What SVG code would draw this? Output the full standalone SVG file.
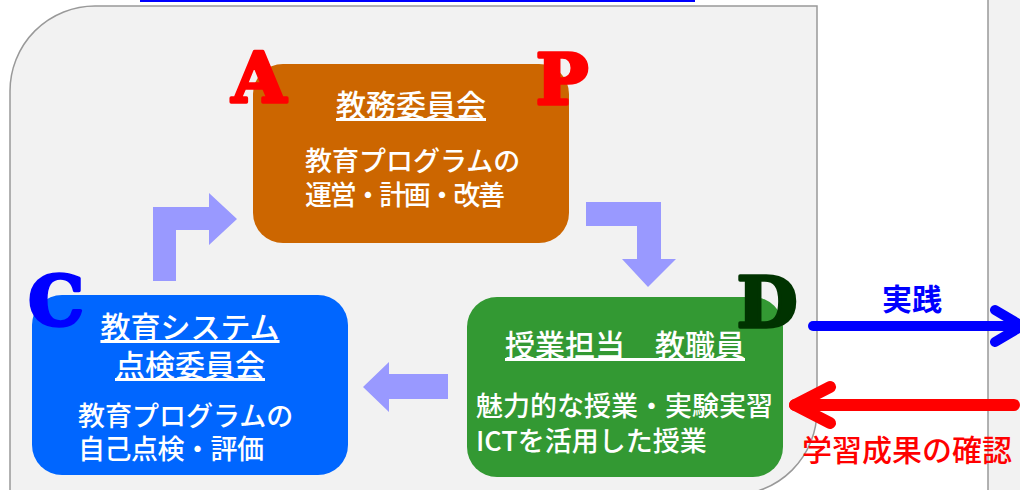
<svg xmlns="http://www.w3.org/2000/svg" width="1020" height="490" viewBox="0 0 1020 490">
<style>
.jp{font-family:"Noto Sans CJK JP","Noto Sans CJK SC",sans-serif;fill:#fff;font-weight:500}
.t{font-size:30px;text-decoration:underline}
.b{font-size:27px}
.big{font-family:"DejaVu Serif","Liberation Serif",serif;font-weight:bold;font-size:70px;text-anchor:middle;stroke-width:3.5;stroke-linejoin:round}
.flow{fill:#9999FF}
</style>
<rect x="0" y="0" width="1020" height="490" fill="#fff"/>
<rect x="140" y="0" width="555" height="2" fill="#0000FF"/>
<g id="panel-left">
<path d="M10,91 A85,85 0 0 1 95,6 L817,6 L817,410 A85,85 0 0 1 732,495 L10,495 Z" fill="#F2F2F2" stroke="#999" stroke-width="1.5"/>
</g>
<g id="panel-right">
<rect x="988" y="-2" width="40" height="500" fill="#F2F2F2" stroke="#999" stroke-width="1.5"/>
</g>
<g id="connectors">
<path class="flow" d="M153,281 L153,207 L209,207 L209,193 L237,219 L209,245 L209,230 L176,230 L176,281 Z"/>
<path class="flow" d="M586,202 L661,202 L661,259 L676,259 L648,287 L622,259 L637,259 L637,226 L586,226 Z"/>
<path class="flow" d="M448,374 L389,374 L389,362 L363,387 L389,412 L389,399 L448,399 Z"/>
<g fill="none" stroke="#0000FF" stroke-width="10" stroke-linecap="round" stroke-linejoin="round">
<line x1="813" y1="326" x2="1020" y2="326"/>
<polyline points="995,310 1022,326 995,342"/>
</g>
<g fill="none" stroke="#FF0000" stroke-width="12" stroke-linecap="round" stroke-linejoin="round">
<line x1="795" y1="405" x2="1014" y2="405"/>
<polyline points="830,387 795,405 830,423"/>
</g>
<text x="912" y="310" text-anchor="middle" font-family="Noto Sans CJK JP, sans-serif" font-weight="bold" font-size="30" fill="#0000FF">実践</text>
<text x="802" y="461" font-family="Noto Sans CJK JP, sans-serif" font-weight="500" font-size="30" fill="#FF0000">学習成果の確認</text>
</g>
<g id="node-plan">
<rect x="253" y="64" width="316" height="179" rx="30" fill="#CC6600"/>
<text class="jp t" x="411" y="116" text-anchor="middle">教務委員会</text>
<text class="jp b" x="305" y="171">教育プログラムの</text>
<text class="jp b" x="305" y="205" textLength="200" lengthAdjust="spacing">運営・計画・改善</text>
<text class="big" x="259" y="102" fill="#FF0000" stroke="#FF0000">A</text>
<text class="big" x="562" y="104" fill="#FF0000" stroke="#FF0000">P</text>
</g>
<g id="node-check">
<rect x="32" y="295" width="316" height="180" rx="30" fill="#0066FF"/>
<text class="jp t" x="190" y="338" text-anchor="middle">教育システム</text>
<text class="jp t" x="190" y="376" text-anchor="middle">点検委員会</text>
<text class="jp b" x="78" y="426">教育プログラムの</text>
<text class="jp b" x="78" y="459" textLength="186" lengthAdjust="spacing">自己点検・評価</text>
<text class="big" x="56" y="325" fill="#0000FF" stroke="#0000FF">C</text>
</g>
<g id="node-do">
<rect x="467" y="297" width="316" height="180" rx="30" fill="#339933"/>
<text class="jp t" x="625" y="356" text-anchor="middle">授業担当　教職員</text>
<text class="jp b" x="476" y="416">魅力的な授業・実験実習</text>
<text class="jp b" x="476" y="451">ICTを活用した授業</text>
<text class="big" x="767" y="327" fill="#003300" stroke="#003300">D</text>
</g>
</svg>
